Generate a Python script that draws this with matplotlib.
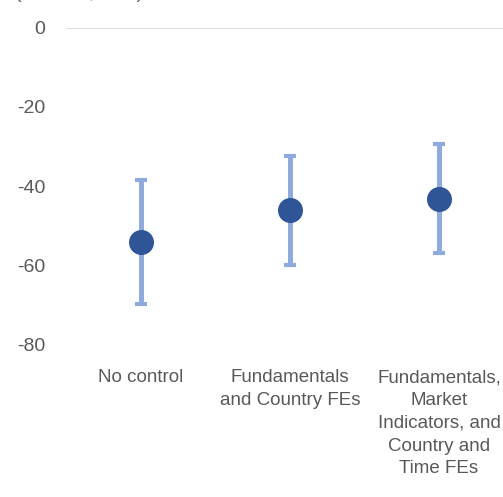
import matplotlib.pyplot as plt

plt.rcParams['font.family'] = ['Liberation Sans', 'DejaVu Sans']
plt.rcParams['axes.unicode_minus'] = False

categories = ['No control', 'Fundamentals\nand Country FEs',
              'Fundamentals,\nMarket\nIndicators, and\nCountry and\nTime FEs']
estimate = [-54.2, -46.1, -43.3]
upper = [-38.5, -32.4, -29.4]
lower = [-69.9, -60.0, -57.0]

fig = plt.figure(figsize=(5.03, 4.97), dpi=100)
ax = fig.add_axes([0.132, 0.3078, 0.889, 0.6359])

x = range(len(categories))
err = [[e - l for e, l in zip(estimate, lower)],
       [u - e for e, u in zip(estimate, upper)]]
ax.errorbar(x, estimate, yerr=err, fmt='none', ecolor='#8FAADC',
            elinewidth=3.6, capsize=4.5, capthick=3, zorder=2)
ax.plot(x, estimate, 'o', color='#2F5597', markersize=17, zorder=3)

ax.axhline(0, color='#D9D9D9', linewidth=1.2, zorder=1)
ax.set_xlim(-0.5, 2.5)
ax.set_ylim(-80, 0)
ax.set_yticks([0, -20, -40, -60, -80])
ax.set_xticks(list(x))
ax.set_xticklabels(categories, linespacing=1.45)
ax.tick_params(axis='y', length=0, pad=15, labelsize=14, labelcolor='#595959')
ax.tick_params(axis='x', length=0, pad=18, labelsize=13.5, labelcolor='#595959')
for s in ax.spines.values():
    s.set_visible(False)

# unit note sitting above the frame
fig.text(0.03, 1.0 + 2 / 497, '(Percent, total)', fontsize=14, color='#595959',
         va='baseline', ha='left')

fig.savefig('out.png', dpi=100)
